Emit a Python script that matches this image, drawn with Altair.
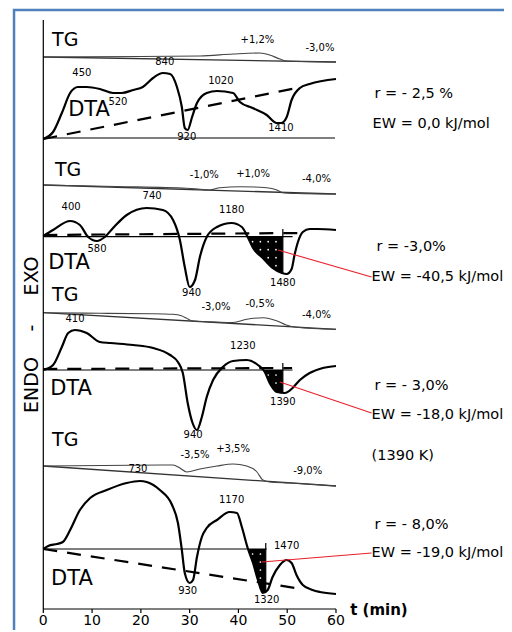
import altair as alt
import pandas as pd
import numpy as np

# ---------------- data (t in min, signal in a.u.) ----------------
T_TICKS = [0, 10, 20, 30, 40, 50, 60]

# Panel 1
P1_DTA_T = [0, 2.0, 3.8, 5.5, 7.1, 8.9, 11.6, 14.3, 16.1, 18.4, 20.4, 22.5, 24.5, 26.0, 27.4, 28.4, 29.0, 29.6,
            30.5, 31.5, 33.5, 35.6, 38.9, 40.3, 42.9, 45.8, 47.8, 48.8, 49.9, 50.9, 52.6, 54.6, 60]
P1_DTA_V = [470, 477, 496, 516, 522, 522, 520, 516, 516, 519, 522, 531, 536, 535, 522, 502, 481, 479,
            492, 506, 516, 518, 516, 507, 501, 494, 486, 486, 492, 509, 521, 525, 530]
P1_TG_T = [0, 20, 32.1, 38.9, 44.4, 46.4, 48.5, 49.9, 60]
P1_TG_V = [552, 552.5, 553, 555, 556, 554, 550, 548, 547]
P1_TG_LINE = [(0, 552), (60, 547)]
P1_BASE = [(0, 471), (59.8, 471)]
P1_DASH = [(0, 470), (53, 522)]

# Panel 2
P2_DTA_T = [0, 2.0, 5.5, 7.5, 9.2, 11.0, 12.6, 14.3, 17.1, 21.2, 24.5, 26.6, 28.0, 29.0, 30.0, 31.1, 32.1,
            33.5, 35.6, 38.6, 40.7, 41.9, 43.0, 45.0, 47.0, 48.9, 49.9, 50.9, 51.5, 52.2, 53.2, 54.6, 56.2, 60]
P2_DTA_V = [373, 379, 388, 384, 372, 368, 372, 381, 394, 401, 399, 389, 369, 342, 322, 329, 352,
            372, 382, 386, 382, 372, 361, 351, 341, 336, 335, 340, 354, 367, 377, 380, 380, 379]
P2_TG_T = [0, 15, 29.4, 32.1, 34.1, 36.2, 40.3, 45.8, 47.9, 49.1, 52, 60]
P2_TG_V = [424, 422.5, 420.7, 419.7, 419, 421.3, 422.3, 421.3, 419, 416.3, 415.5, 415]
P2_TG_LINE = [(0, 424), (60, 415)]
P2_BASE = [(0, 372.3), (51.1, 372.3)]
P2_DASH = [(0, 374), (53, 376)]
P2_MARK = [(49.1, 380), (49.1, 335)]
P2_SHADE = (41.9, 49.1, 372.3)

# Panel 3
P3_DTA_T = [0, 2.0, 3.8, 5.1, 6.5, 8.9, 11.6, 13.7, 18.4, 22.5, 26.0, 27.6, 28.6, 29.6, 30.6, 31.5, 32.5,
            33.5, 34.8, 36.8, 38.9, 41.7, 44.0, 45.4, 46.4, 47.9, 49.5, 51.1, 52.6, 54.6, 57.3, 60]
P3_DTA_V = [239, 244, 262, 276, 279, 276, 267, 266, 264, 261, 254, 247, 236, 206, 186, 179, 192,
            212, 229, 242, 248, 249, 244, 237, 226, 217, 216, 221, 229, 236, 241, 243]
P3_TG_T = [0, 11.6, 21.9, 26.6, 28.3, 29.4, 30.4, 33.5, 38.9, 41.7, 45.1, 47.8, 49.8, 51.9, 60]
P3_TG_V = [296.3, 295.7, 295.3, 294.7, 293.3, 290.7, 288.3, 287.3, 286.5, 289.7, 291.3, 288.3, 284, 281.7, 279.7]
P3_TG_LINE = [(0, 296.3), (60, 279.7)]
P3_BASE = [(0, 239), (51.1, 239)]
P3_DASH = [(0, 240), (51, 241)]
P3_MARK = [(49.1, 246), (49.1, 216)]
P3_SHADE = (45.1, 49.1, 239)

# Panel 4
P4_DTA_T = [0, 1.0, 2.8, 4.0, 5.5, 7.5, 9.6, 13.0, 17.1, 19.8, 21.2, 23.9, 26.4, 27.6, 28.4, 29.0, 30.0,
            30.7, 31.5, 32.5, 33.5, 35.6, 38.2, 39.7, 40.7, 41.9, 43.0, 44.0, 45.0, 46.0, 47.0, 48.5,
            49.9, 50.9, 51.9, 53.2, 55.2, 56.7, 60]
P4_DTA_V = [60, 63, 65, 67, 79, 99, 111, 119, 126, 128, 127, 119, 104, 86, 59, 36, 26,
            29, 52, 72, 81, 89, 97, 96, 82, 61, 46, 29, 16, 19, 32, 44,
            49, 46, 34, 24, 19, 17, 15]
P4_TG_T = [0, 26.6, 28.0, 29.4, 32.1, 35.6, 38.9, 41.7, 43.8, 45.0, 46.4, 50.5, 60]
P4_TG_V = [143, 144, 141, 137, 140, 143, 145, 143, 137, 129, 127, 126, 123]
P4_TG_LINE = [(0, 143), (60, 123)]
P4_BASE = [(0, 60), (45.8, 60)]
P4_DASH = [(0, 60), (53, 20)]
P4_MARK = [(45.6, 66), (45.6, 17)]
P4_SHADE = (41.9, 45.6, 60)

RED_LINES = [[(48.1, 359), (67.3, 332)], [(48.5, 227), (67.3, 196)], [(44.8, 47), (67.3, 56)]]

SMALL_LABELS = [
    ("450", 7.9, 536), ("840", 24.9, 547), ("520", 15.3, 507), ("1020", 36.4, 528), ("920", 29.4, 472),
    ("1410", 48.7, 481), ("+1,2%", 43.9, 569), ("-3,0%", 56.7, 561),
    ("400", 5.7, 402), ("740", 22.3, 413), ("580", 11.0, 360), ("1180", 38.6, 399), ("940", 30.4, 316),
    ("1480", 49.1, 326), ("-1,0%", 33.0, 434), ("+1,0%", 43.0, 435), ("-4,0%", 56.0, 430),
    ("410", 6.5, 290), ("1230", 40.9, 263), ("1390", 49.1, 207), ("940", 30.7, 174), ("-3,0%", 35.4, 302),
    ("-0,5%", 44.4, 305), ("-4,0%", 56.0, 294),
    ("730", 19.4, 140), ("1170", 38.6, 109), ("1470", 49.9, 63), ("930", 29.6, 18), ("1320", 45.8, 9),
    ("-3,5%", 31.1, 154), ("+3,5%", 38.9, 160), ("-9,0%", 54.2, 138),
]
TG_LABELS = [(1.8, 569), (2.4, 439), (1.8, 314), (1.8, 169)]
DTA_LABELS = [(5.1, 499), (1.0, 346), (1.4, 220), (1.6, 30)]
RIGHT_TEXTS = [
    ("r = - 2,5 %", 67.9, 515), ("EW = 0,0 kJ/mol", 67.5, 485),
    ("r = -3,0%", 68.3, 362), ("EW = -40,5 kJ/mol", 67.3, 332),
    ("r = - 3,0%", 67.9, 223), ("EW = -18,0 kJ/mol", 67.3, 194),
    ("(1390 K)", 67.3, 153), ("r = - 8,0%", 67.9, 84), ("EW = -19,0 kJ/mol", 67.3, 56),
]
SIDE_TEXTS = [("EXO", -2.3, 333), ("-", -2.3, 281), ("ENDO", -2.3, 224)]

# ---------------- build tables ----------------
XS = alt.Scale(domain=[-7.236, 94.44], nice=False, zero=False)
YS = alt.Scale(domain=[-21, 601], nice=False, zero=False)


def seg_df(segs):
    rows = []
    for k, s in enumerate(segs):
        for i, (t, v) in enumerate(s):
            rows.append({"id": k, "i": i, "t": t, "v": v})
    return pd.DataFrame(rows)


def curve_df(curves):
    rows = []
    for k, (ts, vs) in enumerate(curves):
        for i, (t, v) in enumerate(zip(ts, vs)):
            rows.append({"id": k, "i": i, "t": t, "v": v})
    return pd.DataFrame(rows)


dta = curve_df([(P1_DTA_T, P1_DTA_V), (P2_DTA_T, P2_DTA_V), (P3_DTA_T, P3_DTA_V), (P4_DTA_T, P4_DTA_V)])
tg = curve_df([(P1_TG_T, P1_TG_V), (P2_TG_T, P2_TG_V), (P3_TG_T, P3_TG_V), (P4_TG_T, P4_TG_V)])
tg_lines = seg_df([P1_TG_LINE, P2_TG_LINE, P3_TG_LINE, P4_TG_LINE])
bases = seg_df([P1_BASE, P2_BASE, P3_BASE, P4_BASE, P2_MARK, P3_MARK, P4_MARK,
                [(0, 0), (0, 589)], [(0, 0), (60, 0)]] + [[(t, 0), (t, -4)] for t in T_TICKS])
dashes = seg_df([P1_DASH, P2_DASH, P3_DASH, P4_DASH])
reds = seg_df(RED_LINES)
border = seg_df([[(-6.0, -30), (-6.0, 599), (100, 599)]])

shade_rows, dot_rows = [], []
for k, ((ts, vs), (t0, t1, base)) in enumerate([((P2_DTA_T, P2_DTA_V), P2_SHADE),
                                               ((P3_DTA_T, P3_DTA_V), P3_SHADE),
                                               ((P4_DTA_T, P4_DTA_V), P4_SHADE)]):
    tt = [t0] + [t for t in ts if t0 < t < t1] + [t1]
    for i, t in enumerate(tt):
        shade_rows.append({"sid": f"s{k}", "t": float(t), "lo": float(np.interp(t, ts, vs)), "hi": float(base)})
    for tx in np.arange(t0 + 1.0, t1, 1.6):
        for vy in np.arange(base - 5, -100, -8.0):
            if vy > np.interp(tx, ts, vs) + 4:
                dot_rows.append({"t": float(tx), "v": float(vy)})
shade = pd.DataFrame(shade_rows)
dots = pd.DataFrame(dot_rows)

small = pd.DataFrame([{"s": s, "t": t, "v": v} for s, t, v in SMALL_LABELS])
tgl = pd.DataFrame([{"s": "TG", "t": t, "v": v} for t, v in TG_LABELS])
dtal = pd.DataFrame([{"s": "DTA", "t": t, "v": v} for t, v in DTA_LABELS])
right = pd.DataFrame([{"s": s, "t": t, "v": v} for s, t, v in RIGHT_TEXTS])
side = pd.DataFrame([{"s": s, "t": t, "v": v} for s, t, v in SIDE_TEXTS])
ticks = pd.DataFrame([{"s": str(t), "t": t, "v": -16} for t in T_TICKS])
tlab = pd.DataFrame([{"s": "t (min)", "t": 62.9, "v": -1}])

X = alt.X("t:Q", scale=XS, axis=None)
Y = alt.Y("v:Q", scale=YS, axis=None)


def lines(df, color, width, dash=None, interp="linear"):
    kw = dict(color=color, strokeWidth=width, interpolate=interp, strokeCap="butt")
    if dash:
        kw["strokeDash"] = dash
    return alt.Chart(df).mark_line(**kw).encode(x=X, y=Y, detail="id:N", order="i:Q")


def texts(df, size, align="center", weight="normal", angle=0, baseline="middle"):
    return alt.Chart(df).mark_text(align=align, baseline=baseline, fontSize=size, fontWeight=weight,
                                   angle=angle, font="DejaVu Sans", color="black").encode(x=X, y=Y, text="s:N")


shade_layer = alt.Chart(shade).mark_area(color="black", fillOpacity=1, interpolate="monotone").encode(
    x=alt.X("t:Q", scale=XS, axis=None),
    y=alt.Y("lo:Q", scale=YS, axis=None, stack=None),
    y2=alt.Y2("hi:Q"),
    detail="sid:N",
)

layers = [
    lines(border, "#4f81bd", 2.5),
    shade_layer,
    alt.Chart(dots).mark_point(filled=True, color="white", size=3, opacity=1).encode(x=X, y=Y),
    lines(tg_lines, "#333333", 1.3),
    lines(tg, "#444444", 1.1, interp="monotone"),
    lines(bases, "black", 1.2),
    lines(dashes, "black", 2.2, dash=[14, 10]),
    lines(dta, "black", 2.2, interp="monotone"),
    lines(reds, "#e8202a", 1.1),
    texts(small, 10),
    texts(tgl, 19, align="left"),
    texts(dtal, 21, align="left"),
    texts(right, 14.5, align="left"),
    texts(side, 19, angle=270),
    texts(ticks, 14, baseline="alphabetic"),
    texts(tlab, 15, align="left", weight="bold"),
]

chart = alt.layer(*layers).properties(
    width=496, height=622, padding=0, autosize="none"
).configure_view(stroke=None)

chart.save("out.html", embed_options={"renderer": "svg", "actions": False})
